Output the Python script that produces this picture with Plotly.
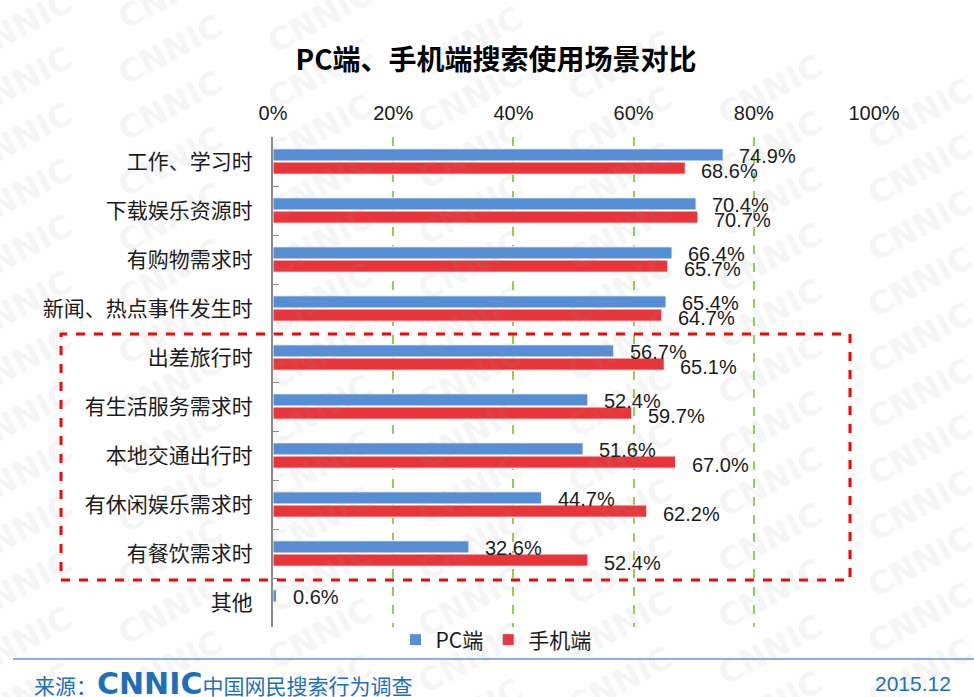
import plotly.graph_objects as go

categories = ["工作、学习时", "下载娱乐资源时", "有购物需求时", "新闻、热点事件发生时", "出差旅行时",
              "有生活服务需求时", "本地交通出行时", "有休闲娱乐需求时", "有餐饮需求时", "其他"]
pc_values = [74.9, 70.4, 66.4, 65.4, 56.7, 52.4, 51.6, 44.7, 32.6, 0.6]
mobile_values = [68.6, 70.7, 65.7, 64.7, 65.1, 59.7, 67.0, 62.2, 52.4, None]
x_ticks = [0, 20, 40, 60, 80, 100]

W, H = 974, 697
L, R, T, B = 273, 874, 137, 627
FONT = "Noto Sans CJK SC"
NUM_FONT = "Liberation Sans"


def px(x, y):
    # pixel position -> paper coords
    return (x - L) / (R - L), (B - y) / (B - T)


fig = go.Figure()
fig.add_trace(go.Bar(y=categories, x=pc_values, orientation="h", name="PC端",
                     marker=dict(color="#558ED5", line=dict(color="#ffffff", width=1))))
fig.add_trace(go.Bar(y=categories, x=mobile_values, orientation="h", name="手机端",
                     marker=dict(color="#E8353A", line=dict(color="#ffffff", width=1))))

# value labels
for cat, v in zip(categories, pc_values):
    fig.add_annotation(x=v, y=cat, text=f"{v:.1f}%", showarrow=False, xanchor="left",
                       xshift=14, yshift=6, font=dict(size=20, color="#1a1a1a", family=NUM_FONT))
for cat, v in zip(categories, mobile_values):
    if v is None:
        continue
    fig.add_annotation(x=v, y=cat, text=f"{v:.1f}%", showarrow=False, xanchor="left",
                       xshift=14, yshift=-9, font=dict(size=20, color="#1a1a1a", family=NUM_FONT))

# CNNIC watermark
for col in range(8):
    for row in range(15):
        wx = 20 + col * 150
        wy = -30 + row * 56 + col * 24
        if wy > H + 20 or wy < -10:
            continue
        ax, ay = px(wx, wy)
        fig.add_annotation(x=ax, y=ay, xref="paper", yref="paper", text="<b>CNNIC</b>",
                           showarrow=False, textangle=-28, xanchor="center", yanchor="middle",
                           font=dict(size=32, color="rgba(150,150,150,0.11)", family="DejaVu Sans"))

# red dashed highlight box
bx0, by0 = px(61, 580)
bx1, by1 = px(850, 334)
fig.add_shape(type="rect", xref="paper", yref="paper", x0=bx0, x1=bx1, y0=by0, y1=by1,
              line=dict(color="#FF0000", width=3, dash="dash"))

# footer line
fx0, fy = px(13, 659)
fx1, _ = px(974, 659)
fig.add_shape(type="line", xref="paper", yref="paper", x0=fx0, x1=fx1, y0=fy, y1=fy,
              line=dict(color="#5B9BD5", width=1.5))

sx, sy = px(32, 683)
fig.add_annotation(x=sx, y=sy, xref="paper", yref="paper", xanchor="left", yanchor="middle",
                   showarrow=False,
                   text="来源：<span style='font-size:30px;font-family:DejaVu Sans'><b>CNNIC</b></span>中国网民搜索行为调查",
                   font=dict(size=21, color="#1F6FB8", family=FONT))
dx, dy = px(953, 683)
fig.add_annotation(x=dx, y=dy, xref="paper", yref="paper", xanchor="right", yanchor="middle",
                   showarrow=False,
                   text="2015.12", font=dict(size=21, color="#1F6FB8", family=NUM_FONT))

lx, ly = px(496, 640)
fig.update_layout(
    width=W, height=H,
    margin=dict(l=L, r=W - R, t=T, b=H - B),
    plot_bgcolor="rgba(0,0,0,0)", paper_bgcolor="#ffffff",
    barmode="group", bargap=0.46, bargroupgap=0.08,
    title=dict(text="<b>PC端、手机端搜索使用场景对比</b>", x=496 / W, xanchor="center",
               y=1 - 60 / H, yref="container", yanchor="middle",
               font=dict(size=28, color="#000000", family=FONT)),
    legend=dict(orientation="h", x=lx, y=ly, xanchor="center", yanchor="middle",
                font=dict(size=21, color="#1a1a1a", family=FONT), traceorder="normal",
                bgcolor="rgba(0,0,0,0)", itemwidth=30),
    font=dict(family=FONT),
)
fig.update_xaxes(side="top", range=[0, 100], tickvals=x_ticks,
                 ticktext=[f"{t}%" for t in x_ticks], showgrid=True,
                 gridcolor="#92D050", griddash="dash", gridwidth=1.5, zeroline=False,
                 showline=False, ticks="", ticklabelstandoff=12,
                 tickfont=dict(size=20, color="#1a1a1a", family=NUM_FONT))
fig.update_yaxes(autorange="reversed", showline=True, linecolor="#8c8c8c", linewidth=2,
                 ticks="inside", tickson="boundaries", ticklen=6, tickcolor="#8c8c8c",
                 ticklabelstandoff=14,
                 tickfont=dict(size=21, color="#1a1a1a", family=FONT), showgrid=False)

fig.write_html("out.html", config={"displayModeBar": False},
               post_script="document.body.style.margin='0';")
